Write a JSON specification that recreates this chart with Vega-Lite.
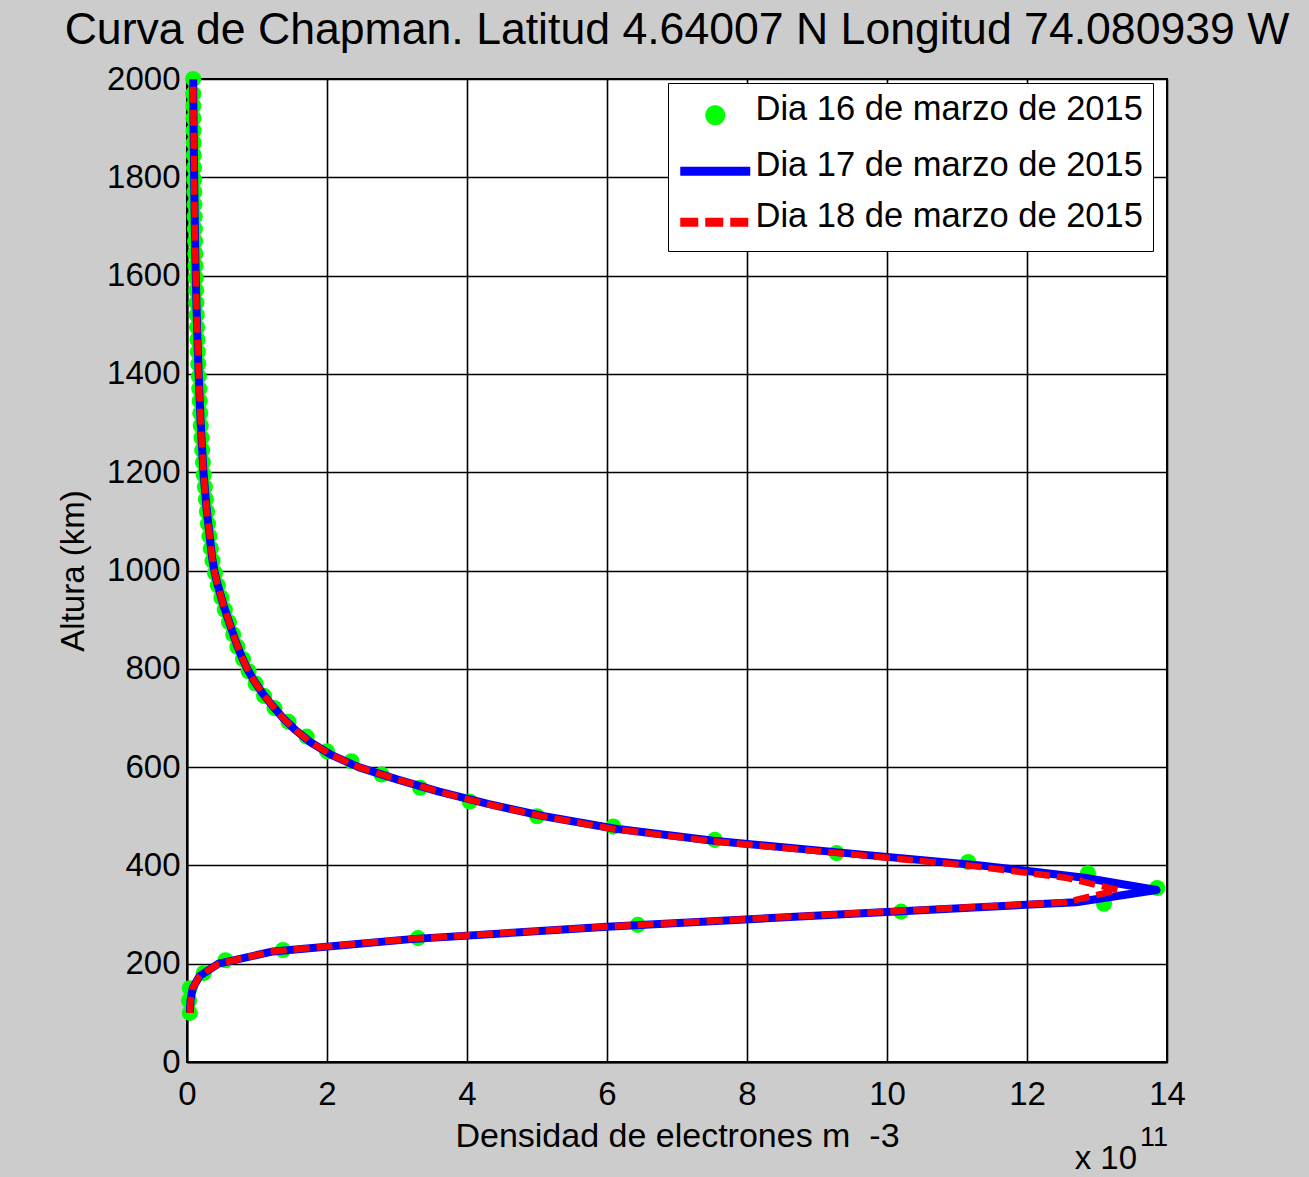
{
  "$schema": "https://vega.github.io/schema/vega-lite/v6.json",
  "width": 980,
  "height": 983,
  "autosize": {"type": "none"},
  "padding": {"left": 187, "top": 79, "right": 142, "bottom": 115},
  "background": "#cccccc",
  "title": {
    "text": "Curva de Chapman. Latitud 4.64007 N Longitud 74.080939 W",
    "font": "Liberation Sans",
    "fontSize": 44.6,
    "fontWeight": "normal",
    "color": "black",
    "anchor": "middle",
    "frame": "group",
    "baseline": "bottom",
    "offset": 7,
    "dy": 42
  },
  "config": {
    "view": {"fill": "white", "stroke": "black", "strokeWidth": 2},
    "axis": {
      "labelFont": "Liberation Sans",
      "labelFontSize": 33,
      "labelColor": "black",
      "labelFlush": false,
      "labelOverlap": false,
      "titleFont": "Liberation Sans",
      "titleFontSize": 34,
      "titleFontWeight": "normal",
      "titleColor": "black",
      "grid": true,
      "gridColor": "black",
      "gridOpacity": 1,
      "gridWidth": 1.6,
      "domainColor": "black",
      "domainWidth": 2,
      "ticks": false
    },
    "legend": {
      "orient": "none",
      "legendX": 481,
      "legendY": 4,
      "padding": 10,
      "strokeColor": "black",
      "fillColor": "white",
      "labelFont": "Liberation Sans",
      "labelFontSize": 34.5,
      "labelColor": "black",
      "labelLimit": 0,
      "labelOffset": 43,
      "rowPadding": 9,
      "symbolSize": 400,
      "symbolStrokeWidth": 9,
      "symbolOpacity": 1
    }
  },
  "datasets": {
    "dia16": [
      {"h": 100, "d16": 0.04}, {"h": 125, "d16": 0.03}, {"h": 150, "d16": 0.04}, {"h": 181, "d16": 0.24},
      {"h": 207, "d16": 0.55}, {"h": 228, "d16": 1.37}, {"h": 252, "d16": 3.3}, {"h": 279, "d16": 6.44},
      {"h": 306, "d16": 10.2}, {"h": 322, "d16": 13.1}, {"h": 354, "d16": 13.86}, {"h": 384, "d16": 12.87},
      {"h": 407, "d16": 11.16}, {"h": 425, "d16": 9.28}, {"h": 452, "d16": 7.54}, {"h": 479, "d16": 6.09},
      {"h": 500, "d16": 5.0}, {"h": 530, "d16": 4.04}, {"h": 558, "d16": 3.33}, {"h": 585, "d16": 2.78},
      {"h": 612, "d16": 2.35}, {"h": 632, "d16": 2.0}, {"h": 662, "d16": 1.71}, {"h": 692, "d16": 1.45},
      {"h": 720, "d16": 1.25}, {"h": 745, "d16": 1.1}, {"h": 770, "d16": 0.98}, {"h": 795, "d16": 0.88},
      {"h": 820, "d16": 0.8}, {"h": 845, "d16": 0.72}, {"h": 870, "d16": 0.66}, {"h": 895, "d16": 0.6},
      {"h": 920, "d16": 0.54}, {"h": 945, "d16": 0.49}, {"h": 970, "d16": 0.44}, {"h": 995, "d16": 0.4},
      {"h": 1020, "d16": 0.365}, {"h": 1045, "d16": 0.34}, {"h": 1070, "d16": 0.32}, {"h": 1095, "d16": 0.3},
      {"h": 1120, "d16": 0.285}, {"h": 1145, "d16": 0.27}, {"h": 1170, "d16": 0.255}, {"h": 1195, "d16": 0.24},
      {"h": 1220, "d16": 0.228}, {"h": 1245, "d16": 0.217}, {"h": 1270, "d16": 0.207}, {"h": 1295, "d16": 0.197},
      {"h": 1320, "d16": 0.19}, {"h": 1345, "d16": 0.182}, {"h": 1370, "d16": 0.175}, {"h": 1395, "d16": 0.168},
      {"h": 1420, "d16": 0.161}, {"h": 1445, "d16": 0.155}, {"h": 1470, "d16": 0.149}, {"h": 1495, "d16": 0.144},
      {"h": 1520, "d16": 0.139}, {"h": 1545, "d16": 0.134}, {"h": 1570, "d16": 0.13}, {"h": 1595, "d16": 0.126},
      {"h": 1620, "d16": 0.122}, {"h": 1645, "d16": 0.119}, {"h": 1670, "d16": 0.116}, {"h": 1695, "d16": 0.113},
      {"h": 1720, "d16": 0.11}, {"h": 1745, "d16": 0.107}, {"h": 1770, "d16": 0.105}, {"h": 1795, "d16": 0.103},
      {"h": 1820, "d16": 0.1}, {"h": 1845, "d16": 0.098}, {"h": 1870, "d16": 0.096}, {"h": 1895, "d16": 0.094},
      {"h": 1920, "d16": 0.092}, {"h": 1945, "d16": 0.09}, {"h": 1970, "d16": 0.089}, {"h": 2000, "d16": 0.088}
    ],
    "dias1718": [
      {"h": 100, "d17": 0.04, "d18": 0.04}, {"h": 125, "d17": 0.05, "d18": 0.05}, {"h": 150, "d17": 0.08, "d18": 0.08},
      {"h": 175, "d17": 0.18, "d18": 0.18}, {"h": 200, "d17": 0.45, "d18": 0.45}, {"h": 225, "d17": 1.23, "d18": 1.22},
      {"h": 250, "d17": 3.2, "d18": 3.15}, {"h": 275, "d17": 6.0, "d18": 5.95}, {"h": 300, "d17": 9.3, "d18": 9.2},
      {"h": 325, "d17": 12.7, "d18": 12.55}, {"h": 350, "d17": 13.85, "d18": 13.3}, {"h": 375, "d17": 12.82, "d18": 12.55},
      {"h": 400, "d17": 11.33, "d18": 11.15}, {"h": 425, "d17": 9.42, "d18": 9.3}, {"h": 450, "d17": 7.52, "d18": 7.45},
      {"h": 475, "d17": 6.1, "d18": 6.05}, {"h": 500, "d17": 5.1, "d18": 5.08}, {"h": 525, "d17": 4.3, "d18": 4.28},
      {"h": 550, "d17": 3.6, "d18": 3.6}, {"h": 575, "d17": 3.0, "d18": 3.0}, {"h": 600, "d17": 2.45, "d18": 2.45},
      {"h": 625, "d17": 2.06, "d18": 2.06}, {"h": 650, "d17": 1.77, "d18": 1.77}, {"h": 675, "d17": 1.55, "d18": 1.55},
      {"h": 700, "d17": 1.37, "d18": 1.37}, {"h": 725, "d17": 1.22, "d18": 1.22}, {"h": 750, "d17": 1.08, "d18": 1.08},
      {"h": 775, "d17": 0.96, "d18": 0.96}, {"h": 800, "d17": 0.86, "d18": 0.86}, {"h": 825, "d17": 0.78, "d18": 0.78},
      {"h": 850, "d17": 0.71, "d18": 0.71}, {"h": 875, "d17": 0.65, "d18": 0.65}, {"h": 900, "d17": 0.59, "d18": 0.59},
      {"h": 925, "d17": 0.53, "d18": 0.53}, {"h": 950, "d17": 0.48, "d18": 0.48}, {"h": 975, "d17": 0.43, "d18": 0.43},
      {"h": 1000, "d17": 0.39, "d18": 0.39}, {"h": 1025, "d17": 0.36, "d18": 0.36}, {"h": 1050, "d17": 0.34, "d18": 0.34},
      {"h": 1075, "d17": 0.32, "d18": 0.32}, {"h": 1100, "d17": 0.3, "d18": 0.3}, {"h": 1125, "d17": 0.28, "d18": 0.28},
      {"h": 1150, "d17": 0.265, "d18": 0.265}, {"h": 1175, "d17": 0.25, "d18": 0.25}, {"h": 1200, "d17": 0.235, "d18": 0.235},
      {"h": 1225, "d17": 0.225, "d18": 0.225}, {"h": 1250, "d17": 0.215, "d18": 0.215}, {"h": 1275, "d17": 0.205, "d18": 0.205},
      {"h": 1300, "d17": 0.195, "d18": 0.195}, {"h": 1325, "d17": 0.188, "d18": 0.188}, {"h": 1350, "d17": 0.18, "d18": 0.18},
      {"h": 1375, "d17": 0.173, "d18": 0.173}, {"h": 1400, "d17": 0.166, "d18": 0.166}, {"h": 1425, "d17": 0.16, "d18": 0.16},
      {"h": 1450, "d17": 0.154, "d18": 0.154}, {"h": 1475, "d17": 0.148, "d18": 0.148}, {"h": 1500, "d17": 0.143, "d18": 0.143},
      {"h": 1525, "d17": 0.138, "d18": 0.138}, {"h": 1550, "d17": 0.133, "d18": 0.133}, {"h": 1575, "d17": 0.129, "d18": 0.129},
      {"h": 1600, "d17": 0.125, "d18": 0.125}, {"h": 1625, "d17": 0.121, "d18": 0.121}, {"h": 1650, "d17": 0.118, "d18": 0.118},
      {"h": 1675, "d17": 0.115, "d18": 0.115}, {"h": 1700, "d17": 0.112, "d18": 0.112}, {"h": 1725, "d17": 0.109, "d18": 0.109},
      {"h": 1750, "d17": 0.106, "d18": 0.106}, {"h": 1775, "d17": 0.104, "d18": 0.104}, {"h": 1800, "d17": 0.102, "d18": 0.102},
      {"h": 1825, "d17": 0.1, "d18": 0.1}, {"h": 1850, "d17": 0.098, "d18": 0.098}, {"h": 1875, "d17": 0.096, "d18": 0.096},
      {"h": 1900, "d17": 0.094, "d18": 0.094}, {"h": 1925, "d17": 0.092, "d18": 0.092}, {"h": 1950, "d17": 0.09, "d18": 0.09},
      {"h": 1975, "d17": 0.089, "d18": 0.089}, {"h": 2000, "d17": 0.088, "d18": 0.088}
    ]
  },
  "layer": [
    {
      "data": {"name": "dia16"},
      "mark": {"type": "point", "filled": true, "shape": "circle", "size": 260, "opacity": 1, "clip": false},
      "encoding": {
        "x": {
          "field": "d16", "type": "quantitative",
          "title": "Densidad de electrones m \u00a0-3",
          "scale": {"domain": [0, 14], "nice": false, "zero": false},
          "axis": {"values": [0, 2, 4, 6, 8, 10, 12, 14], "format": "d", "labelPadding": 16, "titlePadding": 8}
        },
        "y": {
          "field": "h", "type": "quantitative",
          "title": "Altura (km)",
          "scale": {"domain": [0, 2000], "nice": false},
          "axis": {"values": [0, 200, 400, 600, 800, 1000, 1200, 1400, 1600, 1800, 2000], "format": "d", "labelPadding": 7, "titlePadding": 16, "titleFontSize": 33}
        },
        "color": {
          "datum": "Dia 16 de marzo de 2015", "type": "nominal",
          "scale": {
            "domain": ["Dia 16 de marzo de 2015", "Dia 17 de marzo de 2015", "Dia 18 de marzo de 2015"],
            "range": ["#00ff00", "#0000ff", "#ff0000"]
          },
          "legend": {
            "title": null,
            "symbolType": {"expr": "datum.value === 'Dia 16 de marzo de 2015' ? 'M2.55,0.5A0.55,0.55,0,1,1,1.45,0.5A0.55,0.55,0,1,1,2.55,0.5Z' : 'M-1.5,0.5H5.5'"},
            "symbolDash": {"expr": "datum.value === 'Dia 18 de marzo de 2015' ? [18, 7] : [1, 0]"}
          }
        }
      }
    },
    {
      "data": {"name": "dias1718"},
      "mark": {"type": "line", "strokeWidth": 8, "strokeJoin": "round"},
      "encoding": {
        "x": {"field": "d17", "type": "quantitative", "title": "Densidad de electrones m \u00a0-3"},
        "y": {"field": "h", "type": "quantitative", "title": "Altura (km)"},
        "order": {"field": "h", "type": "quantitative"},
        "color": {"datum": "Dia 17 de marzo de 2015", "type": "nominal"}
      }
    },
    {
      "data": {"name": "dias1718"},
      "mark": {"type": "line", "strokeWidth": 6.5, "strokeDash": [16, 7], "strokeCap": "butt"},
      "encoding": {
        "x": {"field": "d18", "type": "quantitative", "title": "Densidad de electrones m \u00a0-3"},
        "y": {"field": "h", "type": "quantitative", "title": "Altura (km)"},
        "order": {"field": "h", "type": "quantitative"},
        "color": {"datum": "Dia 18 de marzo de 2015", "type": "nominal"}
      }
    },
    {
      "data": {"values": [{"t": "x 10"}]},
      "mark": {"type": "text", "font": "Liberation Sans", "fontSize": 33, "color": "black", "align": "right", "baseline": "alphabetic", "dx": -30, "dy": 107},
      "encoding": {
        "x": {"datum": 14, "type": "quantitative"},
        "y": {"datum": 0, "type": "quantitative"},
        "text": {"field": "t", "type": "nominal"}
      }
    },
    {
      "data": {"values": [{"t": "11"}]},
      "mark": {"type": "text", "font": "Liberation Sans", "fontSize": 27, "color": "black", "align": "left", "baseline": "alphabetic", "dx": -27, "dy": 84},
      "encoding": {
        "x": {"datum": 14, "type": "quantitative"},
        "y": {"datum": 0, "type": "quantitative"},
        "text": {"field": "t", "type": "nominal"}
      }
    }
  ]
}
